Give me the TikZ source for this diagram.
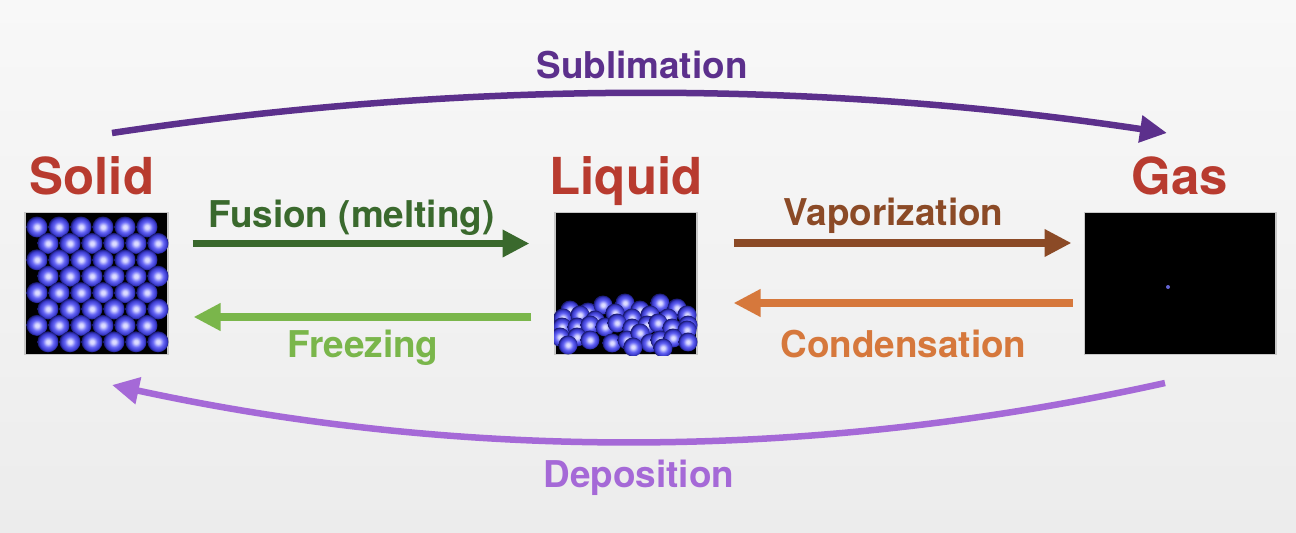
\documentclass[tikz,border=0pt]{standalone}
\usepackage{fontspec}
\setmainfont{TeX Gyre Heros}
\usepackage{tikz}
\usetikzlibrary{arrows.meta,positioning}
\definecolor{phasered}{RGB}{184,59,47}
\definecolor{fusegreen}{RGB}{58,105,45}
\definecolor{freezegreen}{RGB}{122,182,75}
\definecolor{vapbrown}{RGB}{139,74,38}
\definecolor{condorange}{RGB}{214,120,60}
\definecolor{sublpurple}{RGB}{92,48,140}
\definecolor{deppurple}{RGB}{165,105,215}
\definecolor{boxgray}{RGB}{200,200,200}
\definecolor{bgtop}{RGB}{248,248,248}
\definecolor{bgbot}{RGB}{236,236,236}
\definecolor{ptlight}{RGB}{220,220,255}
\definecolor{ptmid}{RGB}{100,100,245}
\definecolor{ptedge}{RGB}{55,55,200}
\definecolor{ptrim}{RGB}{25,25,110}
\definecolor{gasdot}{RGB}{100,100,210}
\pgfdeclareradialshading{particle}{\pgfpoint{0bp}{0bp}}{color(0bp)=(ptlight); color(4bp)=(ptlight); color(13bp)=(ptmid); color(21bp)=(ptedge); color(25bp)=(ptrim); color(50bp)=(ptrim)}

\begin{document}
\begin{tikzpicture}[x=0.02cm, y=0.02cm,
    phaselabel/.style = {font=\fontsize{29}{34}\selectfont\bfseries, text=phasered, anchor=base},
    changelabel/.style = {font=\fontsize{21}{25}\selectfont\bfseries, anchor=base},
    phasebox/.style = {draw=boxgray, line width=0.6pt, fill=black, inner sep=0pt, minimum height=2.84cm},
    flowarrow/.style = {line width=4pt, -{Triangle[length=0.54cm,width=0.52cm]}},
    swooparrow/.style = {line width=3.7pt, -{Triangle[length=0.54cm,width=0.52cm]}},
    atom/.style = {shading=particle}]
  \shade[top color=bgtop, bottom color=bgbot] (0,0) rectangle (1296,532);
  \useasboundingbox (0,0) rectangle (1296,532);

  \node[phasebox, minimum width=2.86cm] (solid) at (96.5,248.5) {};
  \node[phasebox, minimum width=2.84cm] (liquid) at (626,248.5) {};
  \node[phasebox, minimum width=3.84cm] (gas) at (1180,248.5) {};
  \node[phaselabel] (solidlbl) at (92,338) {Solid};
  \node[phaselabel] (liquidlbl) at (626,338) {Liquid};
  \node[phaselabel] (gaslbl) at (1180,338) {Gas};

  \foreach \r in {0,...,7}
    \foreach \c in {0,...,5} {
      \pgfmathsetmacro\px{37+22*\c+11*mod(\r,2)}
      \shade[atom] (\px,305-16.4*\r) circle (0.21cm);
    }
  \begin{scope}
    \clip (liquid.south west) rectangle (liquid.north east);
    \foreach \x/\y in {570/222, 588/220, 603/227, 625/229, 640/222, 660/229, 677/224, 687/217,
        563/214, 580/217, 595/212, 615/219, 632/214, 650/217, 668/214, 688/207,
        562/205, 577/205, 590/207, 605/205, 617/209, 632/204, 647/207, 658/209, 672/204, 687/202,
        560/195, 577/195, 590/192, 612/189, 627/192, 640/199, 650/189, 660/192, 673/194, 688/190,
        568/187, 633/185, 663/184}
      \shade[atom] (\x,\y) circle (0.19cm);
  \end{scope}
  \fill[gasdot] (1168,245) circle (0.04cm);

  \node[changelabel, text=fusegreen] (fuselbl) at (351.5,305) {Fusion (melting)};
  \node[changelabel, text=freezegreen] (freezelbl) at (363,175) {Freezing};
  \node[changelabel, text=vapbrown] (vaplbl) at (893.5,307) {Vaporization};
  \node[changelabel, text=condorange] (condlbl) at (903.5,175) {Condensation};
  \node[changelabel, text=sublpurple] (subllbl) at (642,454) {Sublimation};
  \node[changelabel, text=deppurple] (deplbl) at (639,45) {Deposition};

  \draw[flowarrow, fusegreen, shorten <=0.48cm, shorten >=0.5cm] ([yshift=0.8cm]solid.east) -- ([yshift=0.8cm]liquid.west);
  \draw[flowarrow, freezegreen, shorten <=0.46cm, shorten >=0.5cm] ([yshift=-0.67cm]liquid.west) -- ([yshift=-0.67cm]solid.east);
  \draw[flowarrow, vapbrown, shorten <=0.72cm, shorten >=0.24cm] ([yshift=0.81cm]liquid.east) -- ([yshift=0.81cm]gas.west);
  \draw[flowarrow, condorange, shorten <=0.22cm, shorten >=0.72cm] ([yshift=-0.39cm]gas.west) -- ([yshift=-0.39cm]liquid.east);

  \coordinate (sublfrom) at (112,399);
  \coordinate (sublto) at (1167,399);
  \coordinate (depfrom) at (1165,149);
  \coordinate (depto) at (112,147);
  \draw[swooparrow, sublpurple] (sublfrom) .. controls (464,452) and (815,452) .. (sublto);
  \draw[swooparrow, deppurple] (depfrom) .. controls (813,71) and (464,71) .. (depto);
\end{tikzpicture}
\end{document}
